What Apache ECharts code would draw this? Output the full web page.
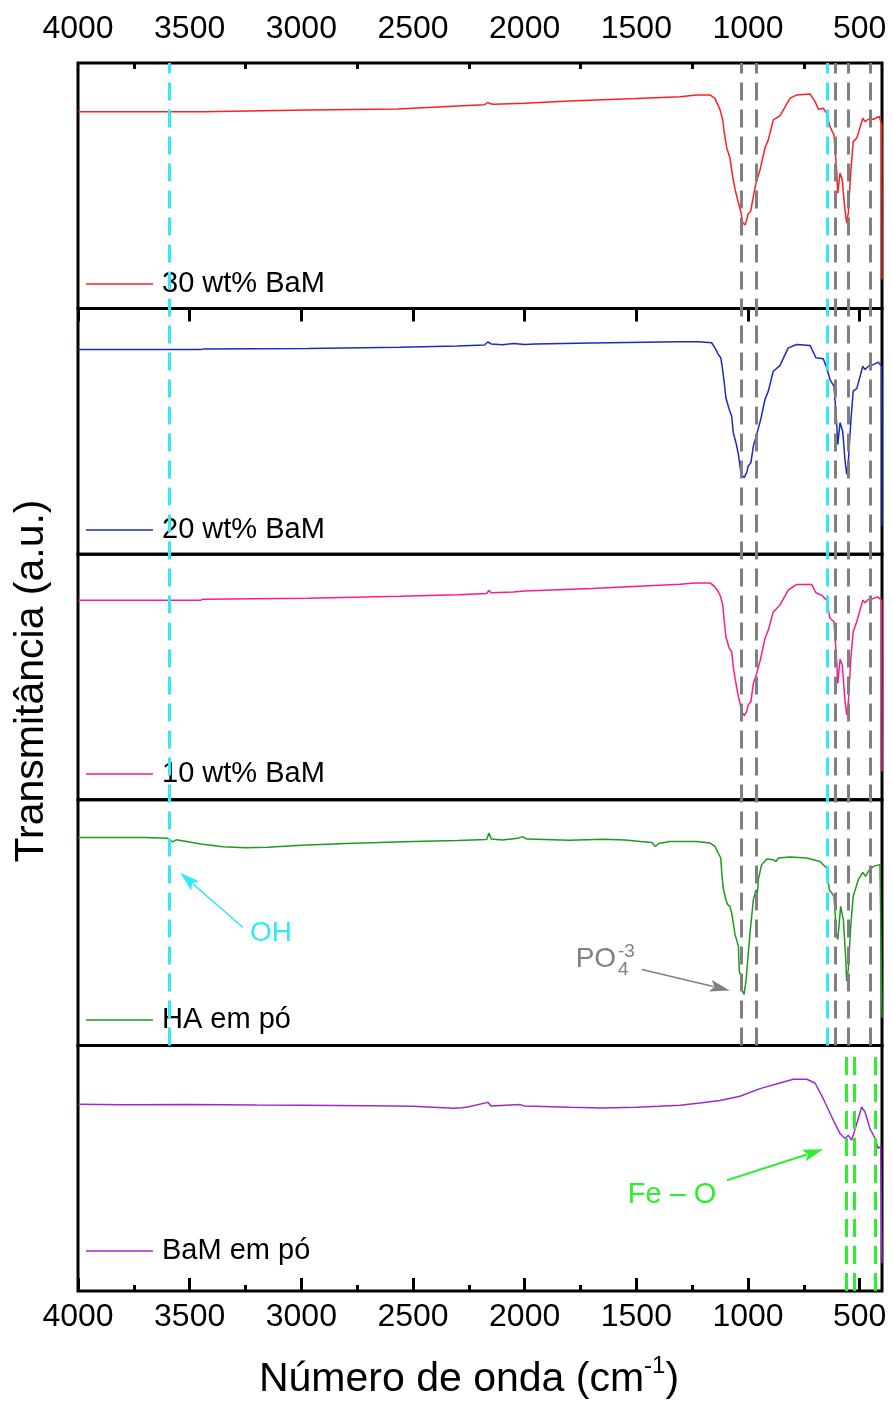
<!DOCTYPE html>
<html><head><meta charset="utf-8">
<script src="https://cdn.jsdelivr.net/npm/echarts@6/dist/echarts.min.js"></script>
<style>html,body{margin:0;padding:0;background:#fff}#c{width:893px;height:1405px}</style>
</head><body><div id="c"></div>
<script>
// ---------- data ----------
const xTicks = [4000,3500,3000,2500,2000,1500,1000,500];
const xMinorTicks = [3750,3250,2750,2250,1750,1250,750];
const seriesNames = ['30 wt% BaM','20 wt% BaM','10 wt% BaM','HA em pó','BaM em pó'];

const wn30 = [4000,3440,3438,2972,2970,2570,2567,2300,2180,2165,2155,2140,2000,1800,1500,1304,1230,1170,1148,1125,1113,1107,1095,1081,1069,1058,1043,1031,1024,1013,1006,999,988,976,964,946,924,909,887,857,812,782,722,700,685,663,648,633,615,603,598,588,578,566,558,551,540,529,513,486,476,461,439,412,401,400];
const t30 = [80.2,80.2,80.9,80.9,81.3,81.3,82.1,82.5,83.0,84.0,83.4,83.2,83.6,84.5,85.5,86.3,87.0,87.0,85.6,80.9,76.8,72.1,65.4,61.4,53.9,48.6,43.1,39.0,35.0,34.1,36.2,38.6,39.6,45.7,51.2,56.5,65.4,68.7,76.8,78.5,85.6,87.0,87.4,84.3,81.2,81.6,79.6,74.1,70.7,56.5,47.0,55.2,52.4,40.2,34.8,38.9,55.2,68.0,69.4,77.5,76.1,77.1,77.1,78.2,74.8,11.8];

const wn20 = [4000,3450,3440,2970,2560,2300,2180,2165,2150,2100,2050,2000,1950,1700,1304,1222,1163,1148,1133,1122,1115,1107,1099,1084,1073,1066,1054,1043,1031,1017,1006,999,987,976,961,943,924,909,887,857,820,782,722,696,663,648,633,615,603,598,588,576,566,558,551,540,529,513,486,476,461,439,417,401,400];
const t20 = [83.3,83.3,83.6,83.8,84.3,84.8,85.2,86.4,85.6,85.3,85.8,85.4,85.6,86.0,86.5,86.5,86.1,84.0,81.3,80.0,76.0,70.4,63.7,58.9,56.2,49.5,45.4,40.7,32.5,31.2,33.2,35.9,37.3,44.0,48.8,54.9,63.0,66.4,74.5,76.8,84.0,85.4,85.0,80.0,79.6,75.9,71.1,68.4,53.5,44.7,53.5,50.1,38.6,32.5,37.3,53.5,66.4,67.4,76.5,75.2,76.5,77.2,78.2,76.5,11.5];

const wn10 = [4000,3450,3440,2970,2560,2300,2170,2160,2150,2050,2000,1700,1304,1237,1170,1148,1133,1122,1113,1107,1099,1084,1073,1066,1058,1046,1036,1028,1017,1006,999,987,976,961,943,924,909,887,857,820,782,715,696,670,648,633,615,603,598,588,578,566,558,551,540,529,513,486,476,461,439,421,401,400];
const t10 = [81.3,81.3,81.7,82.1,82.9,83.5,84.0,85.2,84.3,84.6,85.0,86.0,87.8,88.3,88.3,86.7,84.7,82.6,79.3,73.2,66.4,61.7,60.3,54.2,49.5,43.4,39.3,35.9,34.3,35.9,38.6,40.0,47.4,51.5,57.6,65.7,69.1,76.5,79.3,85.4,87.7,87.7,84.3,83.3,81.3,73.9,72.5,56.9,47.4,57.2,54.9,40.7,34.6,39.3,56.9,68.4,72.5,81.3,80.2,81.6,82.0,82.6,81.3,11.5];

const wnHA = [4000,3700,3600,3575,3560,3450,3350,3250,3150,3000,2800,2500,2300,2170,2160,2150,2100,2030,2010,1990,1800,1650,1550,1480,1430,1415,1400,1350,1304,1230,1170,1148,1133,1122,1118,1111,1099,1091,1081,1073,1066,1058,1043,1039,1031,1027,1018,1009,1001,991,976,964,961,954,939,916,887,875,864,812,737,678,648,636,625,615,603,598,585,573,563,558,551,540,529,506,486,473,461,439,409,401,400];
const tHA = [84.6,84.6,84.3,82.9,83.7,82.0,80.9,80.5,80.7,81.5,82.2,83.0,83.4,83.8,86.5,84.0,83.6,84.3,85.0,84.0,83.5,83.9,83.6,83.0,82.6,81.0,82.2,83.0,83.0,83.0,82.4,81.0,78.3,76.3,70.9,64.1,59.3,57.3,56.6,53.9,49.9,45.1,40.4,30.2,28.2,22.8,20.7,26.1,26.8,45.8,59.3,63.4,58.0,67.5,73.6,75.9,75.6,74.9,76.3,76.7,76.3,74.9,72.2,63.4,62.1,60.7,44.4,43.1,56.6,51.2,36.3,26.1,30.9,48.5,60.7,67.5,70.4,68.8,70.9,72.9,73.6,73.6,11.3];

const wnBaM = [4000,3800,3500,3200,3000,2700,2500,2320,2280,2250,2165,2150,2020,2000,1800,1650,1500,1400,1304,1215,1125,1036,946,857,797,737,700,663,618,588,566,551,536,513,491,476,454,431,417,406,401,400];
const tBaM = [76.0,75.8,75.9,75.7,75.6,75.4,75.2,74.4,74.6,75.0,76.8,75.3,75.9,75.3,74.8,74.5,74.8,75.2,75.6,76.5,77.6,79.3,82.4,84.7,86.2,86.2,84.7,78.3,69.5,64.1,62.1,63.4,61.4,68.2,74.9,72.9,66.1,62.1,58.0,58.9,58.7,11.3];

const grayBands = [1028,965,609,551,454];
const cyanBands = [3590,645];
const greenBands = [558,525,431];

// ---------- styling ----------
const FONT = 'Liberation Sans, Arial, sans-serif';
const colors = ['#FF1F1F','#1A2BBF','#FF1A8C','#1E9A1E','#9B2BD0'];
const CYAN = '#33E8F8', GRAY = '#808080', GREEN = '#2EEE2E';
const L = 78, W = 804, TOP = 63, PH = 245.6;
const legendCenters = [282, 528, 772, 1018, 1249];

const wnList = [wn30, wn20, wn10, wnHA, wnBaM];
const tList = [t30, t20, t10, tHA, tBaM];

const grids = [], xAxes = [], yAxes = [], series = [], legends = [];
for (let i = 0; i < 5; i++) {
  grids.push({left: L, width: W, top: TOP + i*PH, height: PH, show: true, borderColor: '#000', borderWidth: 3, backgroundColor: 'transparent'});
  const showAx = (i === 0 || i === 4);
  xAxes.push({
    gridIndex: i, type: 'value', min: 400, max: 4000, inverse: true,
    position: i === 0 ? 'top' : 'bottom',
    axisLine: {show: false},
    axisTick: {show: showAx, inside: true, length: 13, customValues: xTicks, lineStyle: {width: 3, color: '#000'}},
    axisLabel: {show: showAx, customValues: xTicks, formatter: v => String(v), fontSize: 32, color: '#000', fontFamily: FONT, margin: i === 0 ? 18 : 10},
    splitLine: {show: false}
  });
  yAxes.push({gridIndex: i, type: 'value', min: 0, max: 100, show: false});
  series.push({
    type: 'line', name: seriesNames[i], xAxisIndex: i, yAxisIndex: i,
    data: wnList[i].map((w, k) => [w, tList[i][k]]),
    symbol: 'none', lineStyle: {width: 1.5, color: colors[i]}, itemStyle: {color: colors[i]},
    z: 4, animation: false, clip: true
  });
  legends.push({
    data: [{name: seriesNames[i], icon: 'rect', itemStyle: {color: colors[i]}}],
    left: 86, top: legendCenters[i] - 15, padding: 0, itemWidth: 67, itemHeight: 1.5,
    selectedMode: false, textStyle: {fontSize: 29, color: '#000', fontFamily: FONT, lineHeight: 34, padding: [0, 0, 0, 4]}
  });
}
// minor ticks on top and bottom axes
[0, 4].forEach(i => {
  xAxes.push({
    gridIndex: i, type: 'value', min: 400, max: 4000, inverse: true,
    position: i === 0 ? 'top' : 'bottom',
    axisLine: {show: false},
    axisTick: {show: true, inside: true, length: 6, customValues: xMinorTicks, lineStyle: {width: 3, color: '#000'}},
    axisLabel: {show: false}, splitLine: {show: false}
  });
});
// overlay grids for dashed reference lines
const ovA = grids.length;
grids.push({left: L, width: W, top: TOP, height: 4*PH, show: false});
const ovB = grids.length;
grids.push({left: L, width: W, top: TOP + 4*PH + 6, height: PH - 6, show: false});
const xa = xAxes.length;
xAxes.push({gridIndex: ovA, type: 'value', min: 400, max: 4000, inverse: true, show: false});
xAxes.push({gridIndex: ovB, type: 'value', min: 400, max: 4000, inverse: true, show: false});
const ya = yAxes.length;
yAxes.push({gridIndex: ovA, type: 'value', min: 0, max: 1, show: false});
yAxes.push({gridIndex: ovB, type: 'value', min: 0, max: 1, show: false});
function dashSeries(xi, yi, vals, color) {
  return {
    type: 'line', xAxisIndex: xi, yAxisIndex: yi, data: [], z: 1, silent: true, animation: false,
    markLine: {symbol: ['none','none'], silent: true, animation: false, label: {show: false},
      lineStyle: {type: [18, 9], width: 3, color: color, opacity: 1},
      emphasis: {disabled: true},
      data: vals.map(v => ({xAxis: v}))}
  };
}
series.push(dashSeries(xa, ya, grayBands, GRAY));
series.push(dashSeries(xa, ya, cyanBands, CYAN));
series.push(dashSeries(xa + 1, ya + 1, greenBands, GREEN));

// annotations (data coordinates in their panels)
const annoOH = {grid: 3, text: [3136, 45.5], from: [3261, 48.0], to: [3543, 70.3]};
const annoPO = {grid: 3, text: [1681, 35.0], from: [1475, 30.9], to: [1081, 22.4]};
const annoFe = {grid: 4, text: [1340, 39.0], from: [1094, 45.1], to: [664, 57.7]};

const chart = echarts.init(document.getElementById('c'), null, {renderer: 'canvas'});
chart.setOption({
  backgroundColor: '#fff', animation: false,
  grid: grids, xAxis: xAxes, yAxis: yAxes, series: series, legend: legends
});

function px(grid, p) { return chart.convertToPixel({gridIndex: grid}, p); }
function arrow(p0, p1, color, lw, hl, hw) {
  const dx = p1[0]-p0[0], dy = p1[1]-p0[1], len = Math.hypot(dx, dy);
  const ux = dx/len, uy = dy/len, nx = -uy, ny = ux;
  const bx = p1[0]-ux*hl, by = p1[1]-uy*hl;
  return [
    {type: 'line', shape: {x1: p0[0], y1: p0[1], x2: bx + ux*3, y2: by + uy*3}, style: {stroke: color, lineWidth: lw}, z: 10},
    {type: 'polygon', shape: {points: [[p1[0], p1[1]], [bx + nx*hw/2, by + ny*hw/2], [p1[0]-ux*hl*0.8, p1[1]-uy*hl*0.8], [bx - nx*hw/2, by - ny*hw/2]]}, style: {fill: color}, z: 10}
  ];
}
const ctx = document.createElement('canvas').getContext('2d');
function tw(text, size) { ctx.font = size + 'px ' + FONT; return ctx.measureText(text).width; }

const g = [];
// OH
let p = px(annoOH.grid, annoOH.text);
g.push({type: 'text', x: p[0], y: p[1], style: {text: 'OH', fill: CYAN, font: '28px ' + FONT, align: 'center', verticalAlign: 'middle'}, z: 10});
g.push(...arrow(px(annoOH.grid, annoOH.from), px(annoOH.grid, annoOH.to), CYAN, 1.5, 20, 12));
// PO4^-3
p = px(annoPO.grid, annoPO.text);
g.push({type: 'text', x: p[0], y: p[1], style: {text: 'PO', fill: GRAY, font: '28px ' + FONT, align: 'center', verticalAlign: 'middle'}, z: 10});
g.push({type: 'text', x: p[0] + 22, y: p[1] - 8, style: {text: '-3', fill: GRAY, font: '19px ' + FONT, align: 'left', verticalAlign: 'middle'}, z: 10});
g.push({type: 'text', x: p[0] + 22, y: p[1] + 10, style: {text: '4', fill: GRAY, font: '19px ' + FONT, align: 'left', verticalAlign: 'middle'}, z: 10});
g.push(...arrow(px(annoPO.grid, annoPO.from), px(annoPO.grid, annoPO.to), GRAY, 1.5, 20, 12));
// Fe – O
p = px(annoFe.grid, annoFe.text);
g.push({type: 'text', x: p[0], y: p[1], style: {text: 'Fe – O', fill: GREEN, font: '29px ' + FONT, align: 'center', verticalAlign: 'middle'}, z: 10});
g.push(...arrow(px(annoFe.grid, annoFe.from), px(annoFe.grid, annoFe.to), GREEN, 2, 20, 12));
// axis titles
g.push({type: 'text', x: 32, y: 681, rotation: Math.PI/2,
  style: {text: 'Transmitância (a.u.)', fill: '#000', font: '41px ' + FONT, align: 'center', verticalAlign: 'middle'}, z: 10});
const t1 = 'Número de onda (cm', t2 = '-1', t3 = ')';
const w1 = tw(t1, 41), w2 = tw(t2, 24), w3 = tw(t3, 41);
const x0 = 469 - (w1 + w2 + w3) / 2, yT = 1380;
g.push({type: 'text', x: x0, y: yT, style: {text: t1, fill: '#000', font: '41px ' + FONT, align: 'left', verticalAlign: 'middle'}, z: 10});
g.push({type: 'text', x: x0 + w1, y: yT - 14, style: {text: t2, fill: '#000', font: '24px ' + FONT, align: 'left', verticalAlign: 'middle'}, z: 10});
g.push({type: 'text', x: x0 + w1 + w2, y: yT, style: {text: t3, fill: '#000', font: '41px ' + FONT, align: 'left', verticalAlign: 'middle'}, z: 10});
chart.setOption({graphic: g});
</script></body></html>
